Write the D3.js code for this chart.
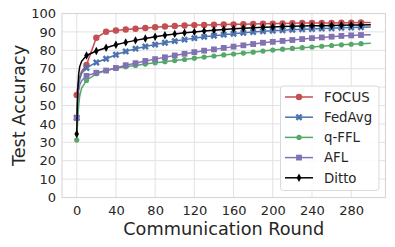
<!DOCTYPE html>
<html><head><meta charset="utf-8">
<script src="https://cdn.jsdelivr.net/npm/d3@7"></script>
<style>body{margin:0;background:#fff}svg{display:block}text{font-family:"DejaVu Sans",sans-serif;fill:#262626}</style>
</head><body><svg id="c" width="395" height="247"></svg>
<script>
const rounds = [0,1,2,3,5,10,20,30,40,50,60,70,80,90,100,110,120,130,140,150,160,170,180,190,200,210,220,230,240,250,260,270,280,290,300];
const focus  = [55.7,60,63,65.5,68.5,72.1,86.8,90.1,90.8,91.3,91.7,92.1,92.5,92.9,93.2,93.5,93.7,93.8,93.9,94.0,94.1,94.2,94.3,94.4,94.5,94.6,94.7,94.8,94.8,94.9,94.9,95.0,95.0,95.1,95.1];
const fedavg = [43.3,55,61,64,67.5,70.4,73.4,75.4,77.6,79.4,80.9,82.1,83.1,84.1,85.0,85.8,86.6,87.3,87.9,88.5,89.0,89.5,89.9,90.3,90.6,90.9,91.2,91.4,91.6,91.8,92.0,92.2,92.4,92.5,92.6];
const qffl   = [31.2,42,50,55,59.5,63.6,67.3,69.0,70.2,71.1,71.8,72.5,73.2,73.8,74.4,75.0,75.7,76.3,76.9,77.5,78.0,78.5,79.0,79.6,80.1,80.6,81.0,81.4,81.8,82.2,82.6,83.0,83.3,83.6,83.8];
const afl    = [43.3,53,58,61,63.5,66.1,67.8,69.0,70.4,71.9,73.0,74.2,75.2,76.2,77.2,78.1,79.0,79.8,80.5,81.3,82.0,82.7,83.4,84.1,84.6,85.1,85.6,86.1,86.6,87.0,87.4,87.8,88.1,88.3,88.5];
const ditto  = [34.5,58,67,71,74,77.2,79.6,81.4,83.0,84.3,85.4,86.4,87.4,88.2,88.9,89.5,90.0,90.5,90.9,91.3,91.7,92.0,92.3,92.5,92.7,92.9,93.1,93.2,93.3,93.4,93.5,93.6,93.7,93.8,93.9];
const seriesNames = ["FOCUS","FedAvg","q-FFL","AFL","Ditto"];
const xTicks = [0,40,80,120,160,200,240,280];
const yTicks = [0,10,20,30,40,50,60,70,80,90,100];

const series = [
  {name:seriesNames[0], vals:focus,  color:"#C44E52", marker:"circle"},
  {name:seriesNames[1], vals:fedavg, color:"#4C72B0", marker:"x"},
  {name:seriesNames[2], vals:qffl,   color:"#55A868", marker:"smallcircle"},
  {name:seriesNames[3], vals:afl,    color:"#8172B2", marker:"square"},
  {name:seriesNames[4], vals:ditto,  color:"#000000", marker:"thindiamond"}
];

const svg = d3.select("#c");
const L=62, R=385.5, T=13.5, B=197.5;
const x = d3.scaleLinear().domain([-15,315]).range([L,R]);
const y = d3.scaleLinear().domain([0,100]).range([B,T]);

// grid
const g = svg.append("g");
g.selectAll(".vg").data(xTicks).join("line").attr("x1",d=>x(d)).attr("x2",d=>x(d)).attr("y1",T).attr("y2",B).attr("stroke","#e2e2e2").attr("stroke-width",1);
g.selectAll(".hg").data(yTicks).join("line").attr("y1",d=>y(d)).attr("y2",d=>y(d)).attr("x1",L).attr("x2",R).attr("stroke","#e2e2e2").attr("stroke-width",1);
svg.append("rect").attr("x",L).attr("y",T).attr("width",R-L).attr("height",B-T).attr("fill","none").attr("stroke","#d6d6d6").attr("stroke-width",1.1);

// axes labels via d3 axes
const xAxis = svg.append("g").attr("transform",`translate(0,${B})`).call(d3.axisBottom(x).tickValues(xTicks).tickSize(0).tickPadding(8));
const yAxis = svg.append("g").attr("transform",`translate(${L},0)`).call(d3.axisLeft(y).tickValues(yTicks).tickSize(0).tickPadding(6));
[xAxis,yAxis].forEach(a=>{a.select(".domain").remove();a.selectAll("text").attr("font-size","13px").attr("font-family","DejaVu Sans").attr("fill","#262626");});

svg.append("text").attr("x",(L+R)/2).attr("y",234.5).attr("text-anchor","middle").attr("font-size","17.7px").text("Communication Round");
svg.append("text").attr("transform",`translate(24.5,${(T+B)/2}) rotate(-90)`).attr("text-anchor","middle").attr("font-size","17.7px").text("Test Accuracy");

function drawMarker(sel, type, color){
  if(type==="circle") sel.append("circle").attr("r",3.2).attr("fill",color);
  else if(type==="smallcircle") sel.append("circle").attr("r",2.6).attr("fill",color);
  else if(type==="square") sel.append("rect").attr("x",-2.9).attr("y",-2.9).attr("width",5.8).attr("height",5.8).attr("fill",color);
  else if(type==="x") sel.append("path").attr("d",d3.symbol(d3.symbolCross,30)()).attr("transform","rotate(45)").attr("fill",color);
  else if(type==="thindiamond") sel.append("path").attr("d","M0,-4.2L2.3,0L0,4.2L-2.3,0Z").attr("fill",color);
}

const line = d3.line().x((d,i)=>x(rounds[i])).y(d=>y(d));
const plot = svg.append("g");
series.forEach(s=>{
  const sg = plot.append("g");
  sg.append("path").attr("d",line(s.vals)).attr("fill","none").attr("stroke",s.color).attr("stroke-width",1.5);
  rounds.forEach((r,i)=>{
    if(r%10===0 && r<300){
      const m = sg.append("g").attr("transform",`translate(${x(r)},${y(s.vals[i])})`);
      drawMarker(m,s.marker,s.color);
    }
  });
});

// legend
const lg = svg.append("g");
lg.append("rect").attr("x",280.5).attr("y",86).attr("width",98.5).attr("height",104.5).attr("rx",3).attr("fill","rgba(255,255,255,0.85)").attr("stroke","#d9d9d9").attr("stroke-width",1);
series.forEach((s,i)=>{
  const cy = 97 + i*20.2;
  lg.append("line").attr("x1",285).attr("x2",313).attr("y1",cy).attr("y2",cy).attr("stroke",s.color).attr("stroke-width",1.5);
  const m = lg.append("g").attr("transform",`translate(299,${cy})`);
  drawMarker(m,s.marker,s.color);
  lg.append("text").attr("x",324).attr("y",cy+4.8).attr("font-size","13.3px").text(s.name);
});
</script></body></html>
